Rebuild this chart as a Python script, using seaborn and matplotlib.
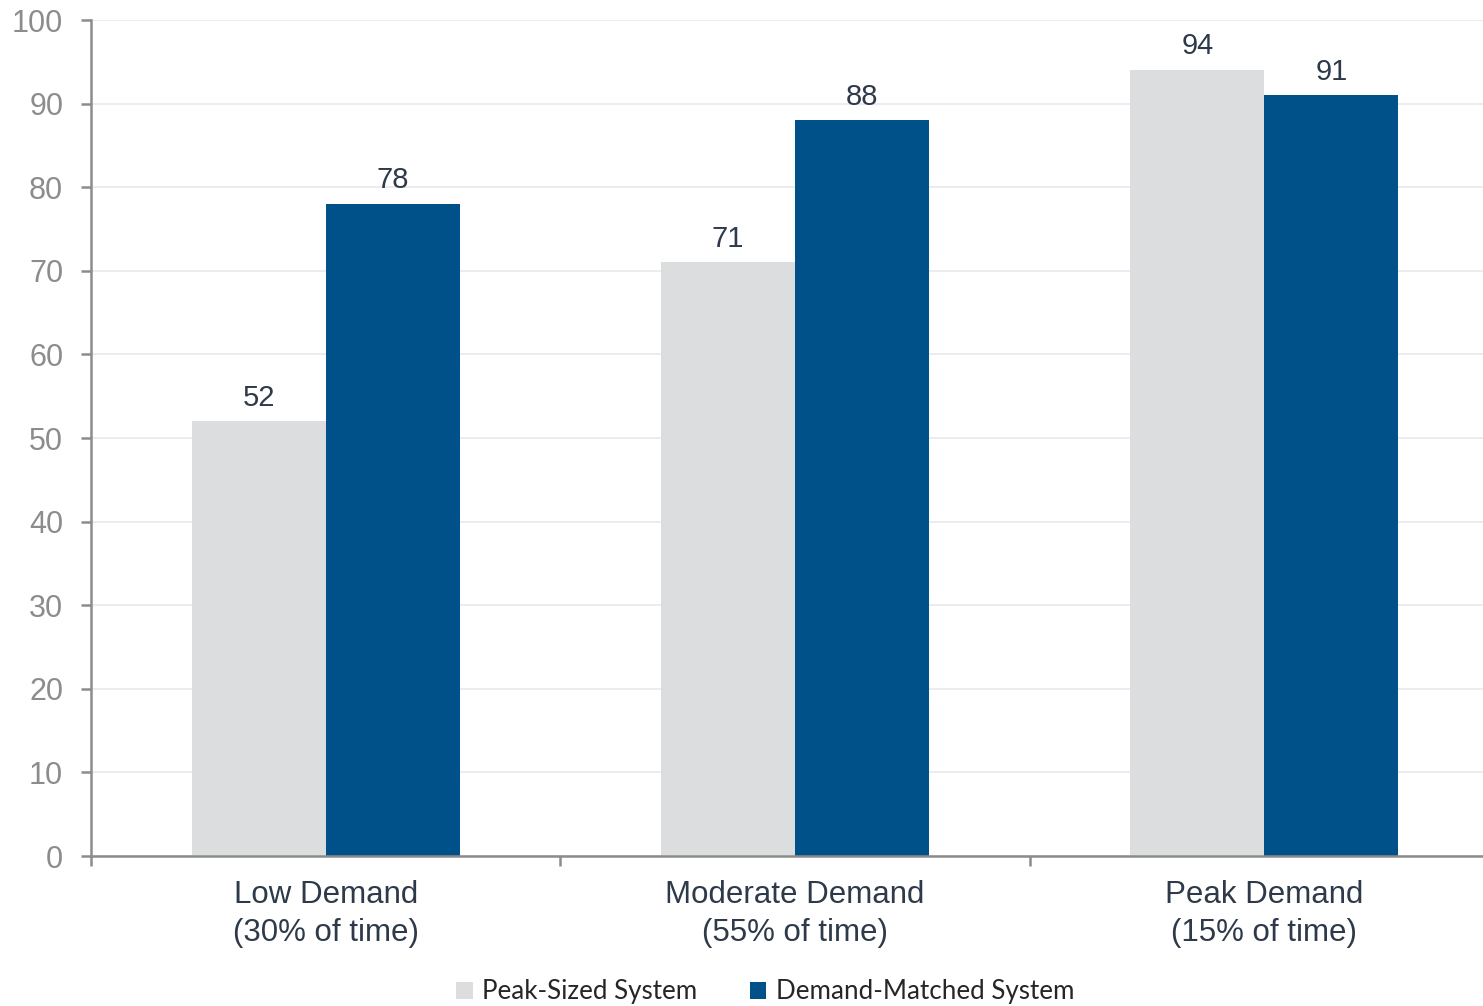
import pandas as pd
import matplotlib.pyplot as plt
import seaborn as sns

categories = ["Low Demand\n(30% of time)", "Moderate Demand\n(55% of time)", "Peak Demand\n(15% of time)"]
series_names = ["Peak-Sized System", "Demand-Matched System"]
peak_sized = [52, 71, 94]
demand_matched = [78, 88, 91]
yticks = [0, 10, 20, 30, 40, 50, 60, 70, 80, 90, 100]

colors = ["#DCDDDF", "#00518A"]

df = pd.DataFrame({
    "category": categories * 2,
    "system": [series_names[0]] * 3 + [series_names[1]] * 3,
    "value": peak_sized + demand_matched,
})

sns.set_style("white")
plt.rcParams["font.family"] = ["Liberation Sans", "DejaVu Sans"]

fig = plt.figure(figsize=(14.83, 10.06), dpi=100)
ax = fig.add_axes([91 / 1483, 150 / 1006, 1 - 91 / 1483, 836 / 1006])

sns.barplot(data=df, x="category", y="value", hue="system", palette=colors,
            width=0.571, saturation=1, ax=ax, linewidth=0)

for c in ax.containers:
    ax.bar_label(c, fontsize=21, color="#2E3A4A", padding=7)

ax.set_ylim(0, 100)
ax.set_xlim(-0.5, 2.466)
ax.set_yticks(yticks)
ax.yaxis.grid(True, color="#E6E9EE", linewidth=1.2)
ax.set_axisbelow(True)
ax.set_xlabel("")
ax.set_ylabel("")

for s in ["top", "right"]:
    ax.spines[s].set_visible(False)
for s in ["left", "bottom"]:
    ax.spines[s].set_color("#8C8C8C")
    ax.spines[s].set_linewidth(1.8)

ax.tick_params(axis="y", labelsize=22, labelcolor="#8C8C8C", length=7, width=1.8,
               color="#8C8C8C", left=True, pad=13)
ax.tick_params(axis="x", which="major", labelsize=22.5, labelcolor="#2E3A4A", length=0, pad=17.5)
for lbl in ax.get_xticklabels():
    lbl.set_linespacing(1.35)
ax.set_xticks([-0.5, 0.5, 1.5], minor=True)
ax.tick_params(axis="x", which="minor", length=7, width=1.8, color="#8C8C8C", bottom=True,
               direction="out")

sns.move_legend(ax, "center", bbox_to_anchor=(0.516, 0.014), bbox_transform=fig.transFigure,
                ncol=2, frameon=False, title=None, handlelength=0.65, handleheight=0.65,
                columnspacing=2.0, handletextpad=0.35,
                prop={"family": ["Lato", "DejaVu Sans"], "size": 18.7})

fig.savefig("out.png", dpi=100)
